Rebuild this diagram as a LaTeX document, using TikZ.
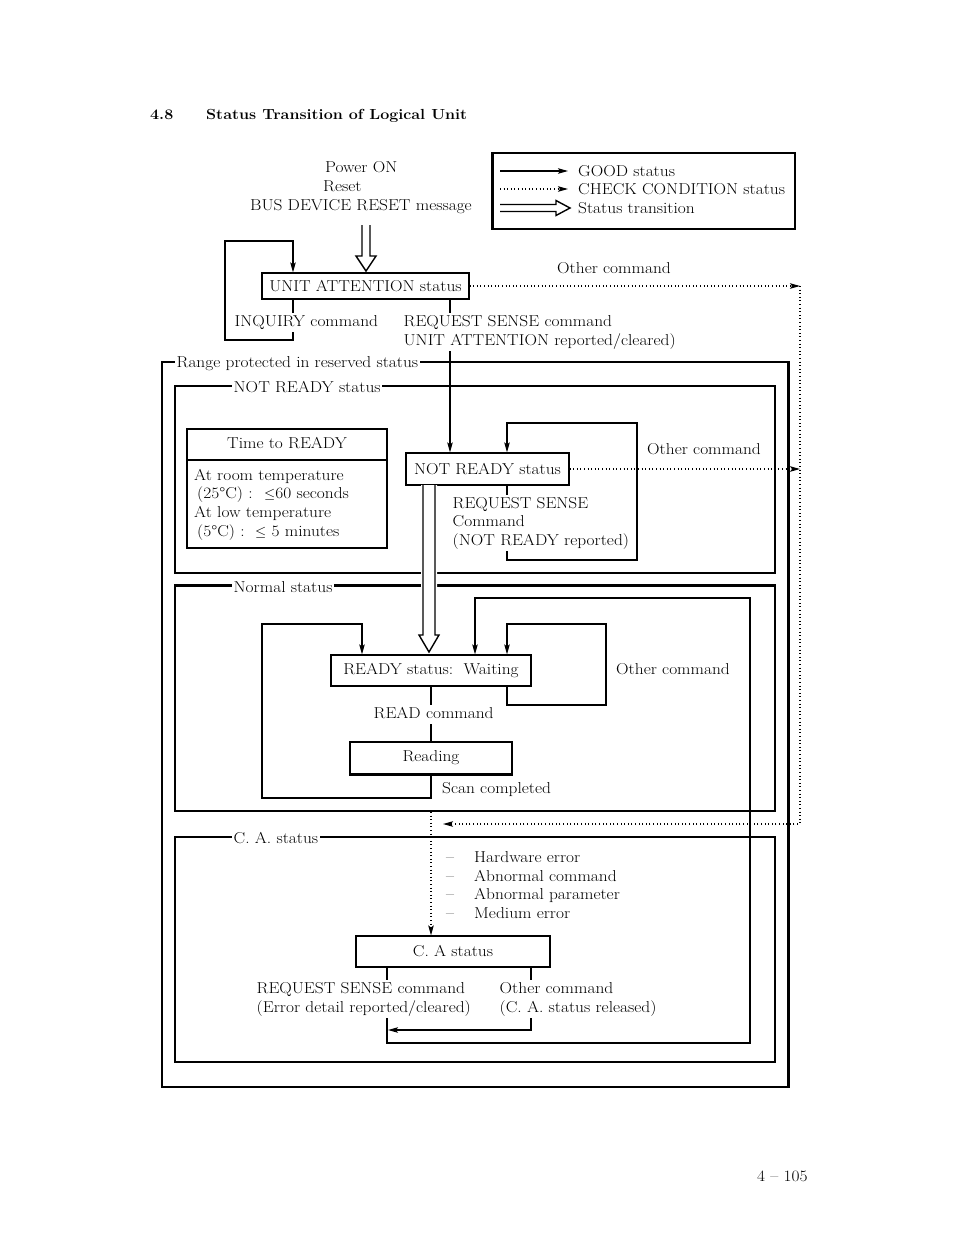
\documentclass[tikz,border=0pt]{standalone}
\usepackage{fontspec}
\setmainfont{Latin Modern Roman}[FakeStretch=1.1]
\usetikzlibrary{arrows.meta}
\begin{document}
\begin{tikzpicture}[x=1pt,y=-1pt,
  font=\fontsize{15.8}{19}\selectfont,
  every node/.style={inner sep=0pt},
  box/.style={draw,line width=1.2pt},
  txt/.style={anchor=base west},
  lbl/.style={anchor=base west,fill=white,inner xsep=1.5pt,inner ysep=1.5pt,text height=12.5pt,text depth=4pt},
  wire/.style={line width=1.1pt},
  thickwire/.style={line width=2.2pt},
  goodarrow/.style={line width=1.1pt,-{Stealth[length=10pt,width=5.5pt,inset=2pt]}},
  checkarrow/.style={line width=1.1pt,dash pattern=on 1pt off 2.6pt,-{Stealth[length=10pt,width=5.5pt,inset=2pt]}},
  hollow/.style={line width=1.4pt,line join=miter}
]
\useasboundingbox (0,0) rectangle (954,1235);
\fill[white] (0,0) rectangle (954,1235);

% title
\node[txt,font=\fontsize{14.6}{19}\selectfont\bfseries] (secno) at (150,119.5) {4.8};
\node[txt,font=\fontsize{14.6}{19}\selectfont\bfseries] (title) at (206,119.5) {Status Transition of Logical Unit};

% regions
\node[box,minimum width=626pt,minimum height=725pt] (outer) at (475,724.5) {};
\node[box,minimum width=600pt,minimum height=187pt] (nrreg) at (475,479.5) {};
\node[box,minimum width=600pt,minimum height=225pt] (normreg) at (475,698.5) {};
\node[box,minimum width=600pt,minimum height=225pt] (careg) at (475,949.5) {};
\draw[thickwire] (outer.north east) -- (outer.south east);
\draw[thickwire] (normreg.north west) -- (normreg.north east);

% legend
\node[box,minimum width=302pt,minimum height=76pt] (legend) at (644,191) {};
\draw[thickwire] (legend.north west) -- (legend.south west);
\coordinate (lg1) at (500,171); \coordinate (lg1e) at (568,171);
\coordinate (lg2) at (500,189); \coordinate (lg2e) at (568,189);
\draw[goodarrow] (lg1) -- (lg1e);
\draw[checkarrow] (lg2) -- (lg2e);
\draw[hollow] (500,204.5) -- (556,204.5) -- (556,200.5) -- (570,208) -- (556,215.5) -- (556,211.5) -- (500,211.5);
\node[txt] (lgt1) at (578,176.5) {GOOD status};
\node[txt] (lgt2) at (578,194.5) {CHECK CONDITION status};
\node[txt] (lgt3) at (578,213.5) {Status transition};

% power on
\node[txt] (pon) at (325,172.5) {Power ON};
\node[txt] (rst) at (323,191.5) {Reset};
\node[txt] (bdr) at (250,210.5) {BUS DEVICE RESET message};

% boxes
\node[box,minimum width=207pt,minimum height=26pt] (ua) at (365.5,286) {UNIT ATTENTION status};
\node[box,minimum width=163pt,minimum height=32pt] (nr) at (487.5,469) {NOT READY status};
\node[box,minimum width=200pt,minimum height=119pt] (ttr) at (287,488.5) {};
\draw[wire] (187,460) -- (387,460);
\node[box,minimum width=200pt,minimum height=31pt] (rdy) at (431,670.5) {READY status:\ \ Waiting};
\node[box,minimum width=162pt,minimum height=32pt] (rdg) at (431,758) {Reading};
\draw[thickwire] (rdg.south west) -- (rdg.south east);
\node[box,minimum width=194pt,minimum height=31pt] (ca) at (453,951.5) {C. A status};

% power-on transition
\draw[hollow] (362,225) -- (362,256) -- (356,256) -- (366,271) -- (376,256) -- (370,256) -- (370,225);

% UA loop (INQUIRY)
\draw[goodarrow] (ua.south -| 293,0) -- (293,340) -- (225,340) -- (225,241) -- (293,241) -- (ua.north -| 293,0);
% UA -> NR
\draw[goodarrow] (ua.south -| 450,0) -- (nr.north -| 450,0);
% other command dotted
\coordinate (r1) at (800,285);
\coordinate (r2) at (800,824);
\coordinate (r3) at (443,824);
\draw[checkarrow] (ua.east) -- (ua.east -| r1);
\draw[checkarrow] (nr.east) -- (nr.east -| r1);
\draw[checkarrow] (ua.east -| r1) -- (r2) -- (r3);

% NR loop
\draw[goodarrow] (nr.south -| 507,0) -- (507,560) -- (637,560) -- (637,423) -- (507,423) -- (nr.north -| 507,0);

% NR -> READY transition
\fill[white] (421,485) -- (421,635) -- (419,635) -- (429,652) -- (439,635) -- (437,635) -- (437,485) -- cycle;
\draw[hollow] (423,485) -- (423,635) -- (419,635) -- (429,652) -- (439,635) -- (435,635) -- (435,485);

% READY loops
\draw[goodarrow] (rdg.south) -- (431,798) -- (262,798) -- (262,624) -- (362,624) -- (rdy.north -| 362,0);
\draw[thickwire] (262,798) -- (431,798);
\draw[goodarrow] (rdy.south -| 507,0) -- (507,705) -- (606,705) -- (606,624) -- (507,624) -- (rdy.north -| 507,0);
\draw[wire] (rdy.south) -- (rdg.north);
\draw[goodarrow] (ca.south -| 387,0) -- (387,1043) -- (750,1043) -- (750,598) -- (475,598) -- (rdy.north -| 475,0);
\draw[goodarrow] (ca.south -| 531,0) -- (531,1030) -- (388,1030);

% to C.A.
\coordinate (c1) at (431,812);
\draw[checkarrow] (c1) -- (c1 |- ca.north);

% region labels
\node[lbl] (lbouter) at (175,367.5) {Range protected in reserved status};
\node[lbl] (lbnr) at (232,392.5) {NOT READY status};
\node[lbl] (lbnorm) at (232,592.5) {Normal status};
\node[lbl] (lbca) at (232,843.5) {C. A. status};

% labels
\node[txt] (oc1) at (557,273.5) {Other command};
\node[lbl] (inq) at (233,326.5) {INQUIRY command};
\node[lbl] (rsua1) at (402,326.5) {REQUEST SENSE command};
\node[lbl] (rsua2) at (402,345.5) {UNIT ATTENTION reported/cleared)};
\node[txt] (oc2) at (647,454.5) {Other command};
\node[lbl] (rsnr1) at (451,508.5) {REQUEST SENSE};
\node[lbl] (rsnr2) at (451,526.5) {Command};
\node[lbl] (rsnr3) at (451,545.5) {(NOT READY reported)};

% time to ready
\node[anchor=base] (ttrh) at (287,448.5) {Time to READY};
\node[txt] (tt1) at (194,480.5) {At room temperature};
\node[txt] (tt2) at (197,498.5) {(25°C) :};
\node[txt] (tt2b) at (264,498.5) {$\leq$60 seconds};
\node[txt] (tt3) at (194,517.5) {At low temperature};
\node[txt] (tt4) at (197,536.5) {(5°C) :};
\node[txt] (tt4b) at (255,536.5) {$\leq$ 5 minutes};

% normal
\node[txt] (oc3) at (616,674.5) {Other command};
\node[lbl] (readc) at (372,718.5) {READ command};
\node[txt] (scan) at (442,793.5) {Scan completed};

% C.A.
\node[txt] (d1) at (446,862.5) {--};
\node[txt] (e1) at (474,862.5) {Hardware error};
\node[txt] (d2) at (446,881.5) {--};
\node[txt] (e2) at (474,881.5) {Abnormal command};
\node[txt] (d3) at (446,899.5) {--};
\node[txt] (e3) at (474,899.5) {Abnormal parameter};
\node[txt] (d4) at (446,918.5) {--};
\node[txt] (e4) at (474,918.5) {Medium error};
\node[lbl] (rsca1) at (255,993.5) {REQUEST SENSE command};
\node[lbl] (rsca2) at (255,1012.5) {(Error detail reported/cleared)};
\node[lbl] (occa1) at (498,993.5) {Other command};
\node[lbl] (occa2) at (498,1012.5) {(C. A. status released)};

\node[txt] (pg) at (757,1181.5) {4 -- 105};
\end{tikzpicture}
\end{document}
